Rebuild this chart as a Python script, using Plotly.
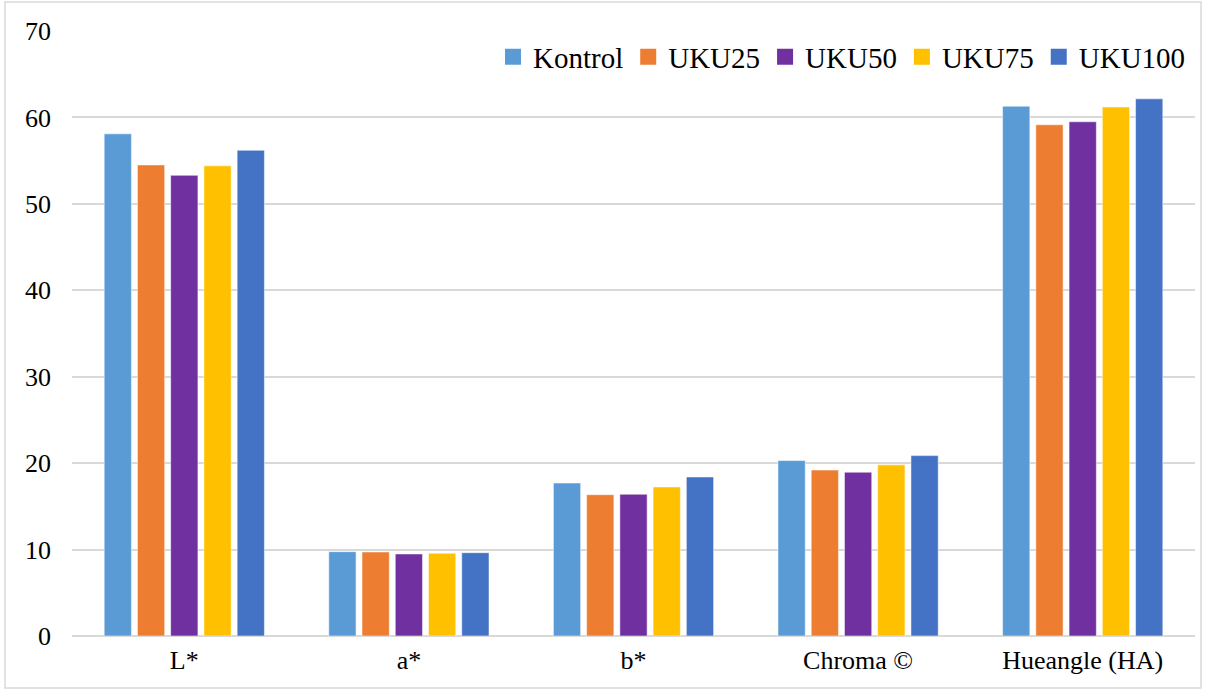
import plotly.graph_objects as go

categories = ["L*", "a*", "b*", "Chroma ©", "Hueangle (HA)"]
series_names = ["Kontrol", "UKU25", "UKU50", "UKU75", "UKU100"]
kontrol = [58.1, 9.76, 17.7, 20.3, 61.3]
uku25 = [54.5, 9.72, 16.35, 19.2, 59.15]
uku50 = [53.3, 9.49, 16.4, 18.95, 59.5]
uku75 = [54.4, 9.57, 17.25, 19.8, 61.2]
uku100 = [56.2, 9.64, 18.4, 20.87, 62.15]
colors = ["#5B9BD5", "#ED7D31", "#7030A0", "#FFC000", "#4472C4"]
y_ticks = [0, 10, 20, 30, 40, 50, 60, 70]

SERIF = "Liberation Serif"

fig = go.Figure()
for name, vals, col in zip(series_names, [kontrol, uku25, uku50, uku75, uku100], colors):
    fig.add_trace(go.Bar(name=name, x=categories, y=vals, showlegend=False, legendgroup=name,
                         marker=dict(color=col, line=dict(color="rgba(255,255,255,0.5)", width=1))))
# legend entries with larger square swatches
for name, col in zip(series_names, colors):
    fig.add_trace(go.Scatter(name=name, x=[None], y=[None], mode="markers", legendgroup=name,
                             marker=dict(symbol="square", size=16, color=col), showlegend=True))

W, H = 1206, 693
ml, mr, mt, mb = 72, 11, 31, 57
pw, ph = W - ml - mr, H - mt - mb

fig.update_layout(
    width=W, height=H,
    margin=dict(l=ml, r=mr, t=mt, b=mb),
    paper_bgcolor="white", plot_bgcolor="white",
    barmode="group", bargap=0.26, bargroupgap=0.18,
    font=dict(family=SERIF, color="#000000", size=26),
    legend=dict(orientation="h", x=1.0 - 4 / pw, xanchor="right", y=(636 - 57) / 605, yanchor="middle",
                font=dict(family=SERIF, size=29, color="#000000"), itemwidth=30,
                bgcolor="rgba(255,255,255,0)", traceorder="normal", tracegroupgap=0),
    showlegend=True,
)
fig.update_yaxes(range=[0, 70], tickvals=y_ticks, showgrid=True, gridcolor="#d9d9d9", gridwidth=1.5,
                 zeroline=True, zerolinecolor="#d9d9d9", zerolinewidth=1.5,
                 showline=False, ticks="", ticklabelstandoff=20,
                 tickfont=dict(family=SERIF, size=26, color="#000000"))
fig.update_xaxes(showgrid=False, showline=False, ticks="", ticklabelstandoff=6,
                 tickfont=dict(family=SERIF, size=26, color="#000000"))

# outer chart frame
x0 = (5 - ml) / pw
x1 = (1201 - ml) / pw
y1 = (H - 2 - mb) / ph
y0 = (H - 688 - mb) / ph
fig.add_shape(type="rect", xref="paper", yref="paper", x0=x0, x1=x1, y0=y0, y1=y1,
              line=dict(color="#d9d9d9", width=1.5), fillcolor="rgba(0,0,0,0)", layer="below")

fig.write_html("out.html", config={"displayModeBar": False},
               post_script="document.body.style.margin='0';")
